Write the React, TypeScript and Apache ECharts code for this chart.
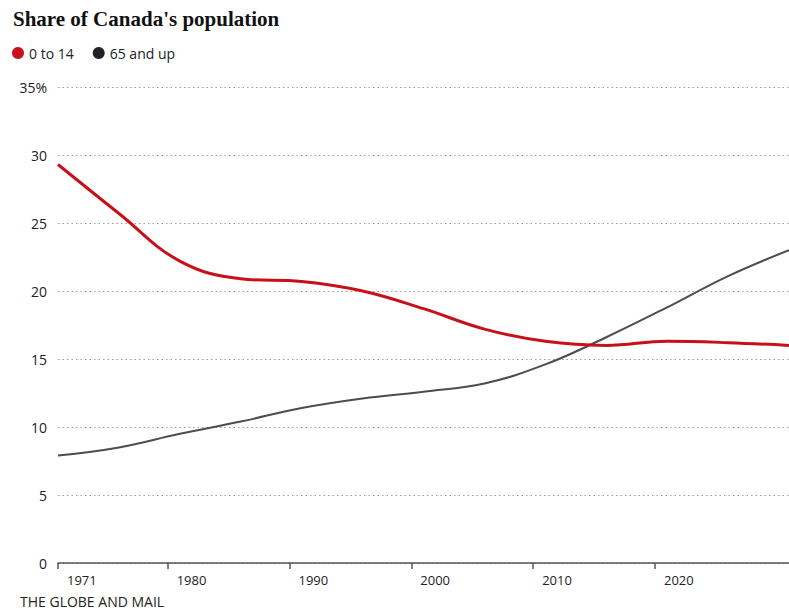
import React, { useEffect, useRef } from "react";
import * as echarts from "echarts";

const years = [1971, 1976, 1981, 1986, 1991, 1996, 2001, 2006, 2011, 2016, 2021, 2026, 2031];
const youth = [29.3, 25.7, 22.2, 20.9, 20.7, 20.0, 18.7, 17.2, 16.3, 16.0, 16.3, 16.2, 16.0];
const seniors = [7.9, 8.5, 9.5, 10.4, 11.4, 12.1, 12.6, 13.2, 14.6, 16.6, 18.8, 21.1, 23.0];
const xTicks = [1971, 1980, 1990, 2000, 2010, 2020];
const seriesNames = ["0 to 14", "65 and up"];
const title = "Share of Canada's population";
const source = "THE GLOBE AND MAIL";

export default function App() {
  const ref = useRef<HTMLDivElement>(null);
  useEffect(() => {
    if (!ref.current) return;
    const chart = echarts.init(ref.current, null, { renderer: "svg" });
    const pair = (ys: number[]) => years.map((y, i) => [y, ys[i]]);
    chart.setOption({
      animation: false,
      backgroundColor: "#ffffff",
      textStyle: { fontFamily: "'Open Sans', sans-serif" },
      grid: { left: 58, right: 0, top: 87, bottom: 47, containLabel: false },
      legend: {
        left: 12,
        top: 46,
        padding: 0,
        icon: "circle",
        itemWidth: 12,
        itemHeight: 12,
        itemGap: 19,
        textStyle: { fontSize: 14, color: "#222", fontFamily: "'Open Sans', sans-serif" },
        data: seriesNames,
      },
      graphic: [
        {
          type: "text",
          left: 13,
          top: 8,
          style: {
            text: title,
            font: "bold 21px 'Liberation Serif', serif",
            fill: "#111",
          },
        },
        {
          type: "text",
          left: 20,
          top: 594,
          style: {
            text: source,
            font: "14px 'Open Sans', sans-serif",
            fill: "#222",
          },
        },
      ],
      xAxis: {
        type: "value",
        min: 1971,
        max: 2031,
        splitLine: { show: false },
        axisLine: { show: true, lineStyle: { color: "#555", width: 1.5 } },
        axisTick: {
          show: true,
          inside: false,
          length: 6,
          customValues: xTicks,
          lineStyle: { color: "#555", width: 1.5 },
        },
        axisLabel: {
          customValues: xTicks,
          align: "left",
          margin: 10,
          padding: [0, 0, 0, 9],
          fontSize: 13,
          color: "#222",
          formatter: (v: number) => String(v),
        },
      },
      yAxis: {
        type: "value",
        min: 0,
        max: 35,
        interval: 5,
        axisLine: { show: false },
        axisTick: { show: false },
        axisLabel: {
          margin: 11,
          fontSize: 14,
          color: "#222",
          formatter: (v: number) => (v === 35 ? "35%" : String(v)),
        },
        splitLine: {
          show: true,
          lineStyle: { color: "#9a9a9a", type: [1.5, 3], width: 1.2 },
        },
      },
      series: [
        {
          name: seriesNames[0],
          type: "line",
          smooth: 0.4,
          showSymbol: false,
          data: pair(youth),
          itemStyle: { color: "#c8101a" },
          lineStyle: { color: "#c8101a", width: 3 },
          z: 3,
        },
        {
          name: seriesNames[1],
          type: "line",
          smooth: 0.4,
          showSymbol: false,
          data: pair(seniors),
          itemStyle: { color: "#222" },
          lineStyle: { color: "#4d4d4d", width: 2 },
          z: 2,
        },
      ],
    });
    return () => chart.dispose();
  }, []);
  return (
    <div
      ref={ref}
      style={{ position: "absolute", left: 0, top: 0, width: 789, height: 610 }}
    />
  );
}
